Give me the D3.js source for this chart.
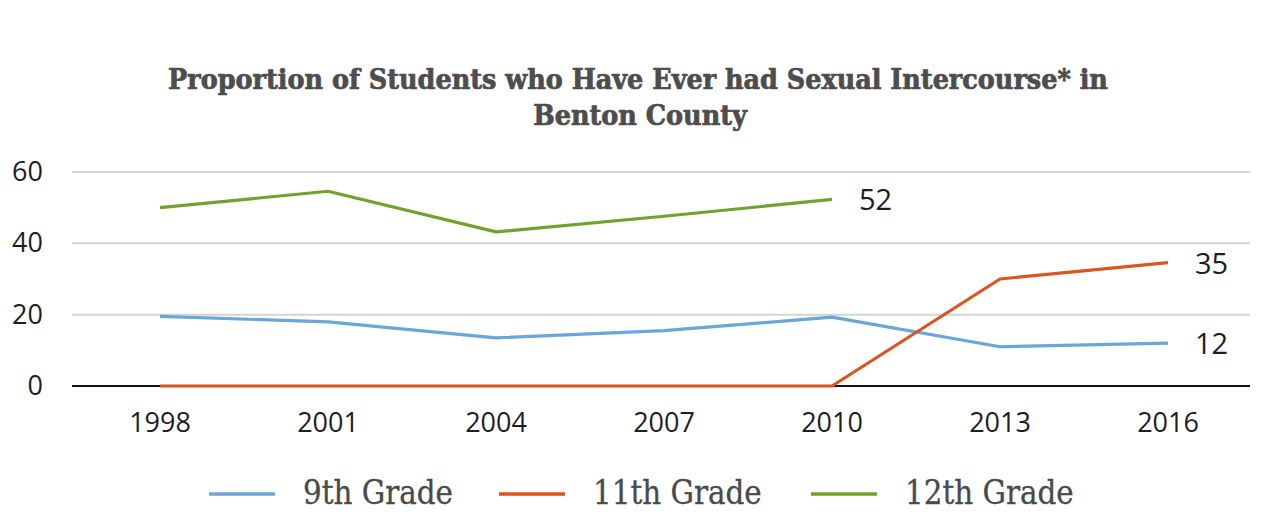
<!DOCTYPE html>
<html>
<head>
<meta charset="utf-8">
<style>
  body { margin: 0; background: #fff; }
  svg { display: block; }
</style>
</head>
<body>
<div class="linechart"></div>

<script src="https://d3js.org/d3.v7.min.js"></script>

<script>
// values
const years = ["1998", "2001", "2004", "2007", "2010", "2013", "2016"];
const grade9 = [19.5, 18, 13.5, 15.5, 19.3, 11, 12];
const grade11 = [0, 0, 0, 0, 0, 30, 34.6];
const grade12 = [50, 54.6, 43.2, 47.6, 52.3, null, null];
const seriesNames = ["9th Grade", "11th Grade", "12th Grade"];
const endLabels = ["12", "35", "52"];
const yTicks = [0, 20, 40, 60];
const titleLines = ["Proportion of Students who Have Ever had Sexual Intercourse* in", "Benton County"];

lineChart();
function lineChart(){
  const width = 1263;
  const height = 515;
  const colors = ["#6ba6d8", "#d8561f", "#72a12d"];
  const series = [grade9, grade11, grade12];
  const slab = "'DejaVu Serif Condensed', 'DejaVu Serif', serif";
  const sans = "'Open Sans', sans-serif";

  const x = d3.scaleBand().domain(years).range([76, 1252]);
  const y = d3.scaleLinear().domain([0, 60]).range([386, 172]);

  const svg = d3.select(".linechart")
    .append("svg")
      .attr("width", width)
      .attr("height", height)
      .attr("viewBox", `0 0 ${width} ${height}`);

  // title, sized to the width it has in the picture
  const title = svg.append("g")
      .attr("font-family", slab)
      .attr("font-weight", "bold")
      .attr("fill", "#4d4d4d")
      .attr("stroke", "#4d4d4d")
      .attr("stroke-width", 0.7)
      .attr("text-anchor", "middle");
  const t1 = title.append("text").attr("x", 638).attr("y", 89).attr("font-size", 20).text(titleLines[0]);
  const fs = 20 * 940 / t1.node().getComputedTextLength();
  t1.attr("font-size", fs);
  title.append("text").attr("x", 640).attr("y", 125).attr("font-size", fs).text(titleLines[1]);

  // grid
  svg.append("g")
    .selectAll("line")
    .data(yTicks.filter(d => d > 0))
    .join("line")
      .attr("x1", 72).attr("x2", 1250)
      .attr("y1", d => y(d)).attr("y2", d => y(d))
      .attr("stroke", "#d4d4d4")
      .attr("stroke-width", 2);

  svg.append("line")
      .attr("x1", 72).attr("x2", 1250)
      .attr("y1", y(0)).attr("y2", y(0))
      .attr("stroke", "#111")
      .attr("stroke-width", 2);

  // axis labels
  const yAxis = svg.append("g")
      .attr("transform", "translate(43,0)")
      .call(d3.axisLeft(y).tickValues(yTicks).tickSize(0).tickPadding(0));
  yAxis.select(".domain").remove();
  yAxis.selectAll("text")
      .attr("font-family", sans)
      .attr("font-size", 27)
      .attr("fill", "#1e1e1e");

  const xAxis = svg.append("g")
      .attr("transform", `translate(0,${y(0)})`)
      .call(d3.axisBottom(x).tickSize(0).tickPadding(27));
  xAxis.select(".domain").remove();
  xAxis.selectAll("text")
      .attr("font-family", sans)
      .attr("font-size", 27)
      .attr("fill", "#1e1e1e");

  // lines
  const line = d3.line()
    .defined(d => d != null)
    .x((d, i) => x(years[i]) + x.bandwidth() / 2)
    .y(d => y(d));

  svg.append("g")
    .selectAll("path")
    .data(series)
    .join("path")
      .attr("d", line)
      .attr("fill", "none")
      .attr("stroke", (d, i) => colors[i])
      .attr("stroke-width", 3.2)
      .attr("stroke-linejoin", "round");

  // labels at the last point of each line
  const lastIndex = d => d3.max(d.map((v, j) => v != null ? j : -1));
  svg.append("g")
    .selectAll("text")
    .data(series)
    .join("text")
      .attr("x", d => x(years[lastIndex(d)]) + x.bandwidth() / 2 + 27)
      .attr("y", d => y(d[lastIndex(d)]) + 11)
      .attr("font-family", sans)
      .attr("font-size", 29)
      .attr("fill", "#1e1e1e")
      .text((d, i) => endLabels[i]);

  // legend
  const legendX = [209, 499, 811];
  const legend = svg.append("g")
    .selectAll("g")
    .data(seriesNames)
    .join("g")
      .attr("transform", (d, i) => `translate(${legendX[i]},494)`);
  legend.append("line")
      .attr("x1", 0).attr("x2", 66)
      .attr("stroke", (d, i) => colors[i])
      .attr("stroke-width", 3.5);
  const lt = legend.append("text")
      .attr("x", 94)
      .attr("y", 10)
      .attr("font-family", slab)
      .attr("font-size", 24)
      .attr("fill", "#4a4a4a")
      .attr("stroke", "#4a4a4a")
      .attr("stroke-width", 0.3)
      .text(d => d);
  const lfs = 24 * 150 / lt.node().getComputedTextLength();
  lt.attr("font-size", lfs);
}
</script>
</body>
</html>
